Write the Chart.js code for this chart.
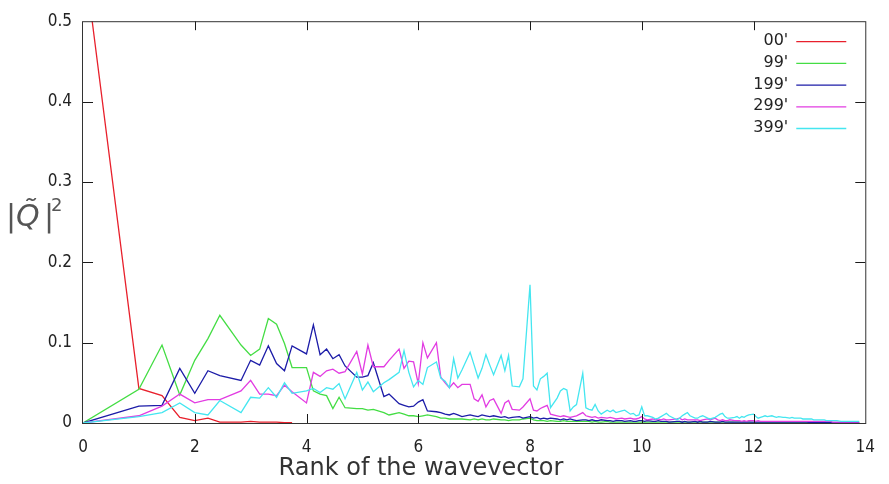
<!DOCTYPE html>
<html>
<head>
<meta charset="utf-8">
<script src="https://cdn.jsdelivr.net/npm/chart.js@4.4.0/dist/chart.umd.min.js"></script>
<style>
  html, body { margin: 0; padding: 0; background: #fff; }
  #wrap { width: 889px; height: 484px; }
</style>
</head>
<body>
<div id="wrap"><canvas id="spectrumChart" width="889" height="484"></canvas></div>
<script>
// Wavevector ranks (|k| of the lattice shells)
const ranks = [
  0, 1, 1.414, 1.732, 2, 2.236, 2.449, 2.828, 3, 3.162, 3.317, 3.464, 3.606, 3.742,
  4, 4.123, 4.243, 4.359, 4.472, 4.583, 4.69, 4.899,
  5, 5.099, 5.196, 5.385, 5.477, 5.657, 5.745, 5.831, 5.916,
  6, 6.083, 6.164, 6.325, 6.403, 6.481, 6.557, 6.633, 6.708, 6.782, 6.928,
  7, 7.071, 7.141, 7.211, 7.28, 7.348, 7.483, 7.55, 7.616, 7.681, 7.81, 7.874,
  8, 8.062, 8.124, 8.185, 8.246, 8.307, 8.367, 8.485, 8.544, 8.602, 8.66, 8.718, 8.775, 8.832, 8.944,
  9, 9.055, 9.11, 9.165, 9.22, 9.274, 9.381, 9.434, 9.487, 9.539, 9.644, 9.695, 9.798, 9.849, 9.899, 9.95,
  10, 10.05, 10.1, 10.198, 10.247, 10.296, 10.344, 10.392, 10.44, 10.488, 10.63, 10.677, 10.724, 10.77, 10.817, 10.863, 10.954,
  11, 11.045, 11.091, 11.18, 11.225, 11.314, 11.358, 11.402, 11.446, 11.489, 11.533, 11.576, 11.662, 11.705, 11.747, 11.79, 11.832, 11.874, 11.916,
  12, 12.042, 12.083, 12.124, 12.166, 12.207, 12.247, 12.329, 12.369, 12.41, 12.45, 12.53, 12.57, 12.649, 12.689, 12.728, 12.767, 12.806, 12.845, 12.884, 12.961,
  13, 13.038, 13.077, 13.115, 13.153, 13.191, 13.266, 13.304, 13.342, 13.379, 13.416, 13.454, 13.491, 13.565, 13.601, 13.638, 13.675, 13.748, 13.784, 13.856, 13.892
];

// |Q|^2 per snapshot
const q00 = [0.59, 0.043, 0.034, 0.007, 0.003, 0.006, 0.001, 0.001, 0.002, 0.001, 0.001, 0.001, 0.0005, 0.0005];

const q99 = [
  0, 0.042, 0.097, 0.035, 0.078, 0.105, 0.134, 0.097, 0.084, 0.092, 0.130, 0.123, 0.099, 0.069,
  0.069, 0.040, 0.036, 0.034, 0.018, 0.032, 0.019, 0.018,
  0.018, 0.016, 0.017, 0.013, 0.010, 0.013, 0.011, 0.009, 0.009,
  0.008, 0.009, 0.010, 0.008, 0.006, 0.006, 0.005, 0.005, 0.005, 0.005, 0.004,
  0.005, 0.004, 0.005, 0.004, 0.004, 0.005, 0.004, 0.004, 0.003, 0.004, 0.004, 0.005,
  0.006, 0.004, 0.003, 0.003, 0.003, 0.002, 0.003, 0.002, 0.002, 0.003, 0.002, 0.002, 0.002, 0.002, 0.002,
  0.002, 0.002, 0.001, 0.002, 0.001, 0.001, 0.002, 0.001, 0.001, 0.001, 0.001, 0.001, 0.001, 0.001, 0.001, 0.001,
  0.001, 0.001, 0.001, 0.001, 0.001, 0.001, 0.001, 0.001, 0.001, 0.001, 0.001, 0.001, 0.001, 0.001, 0.001, 0.001, 0.001,
  0.001, 0.001, 0.001, 0.001, 0.001, 0.001, 0.001, 0.001, 0.001, 0.001, 0.001, 0.001, 0.001, 0.001, 0.001, 0.001, 0.001, 0.001, 0.001,
  0.0005, 0.0005, 0.0005, 0.0005, 0.0005, 0.0005, 0.0005, 0.0005, 0.0005, 0.0005, 0.0005, 0.0005, 0.0005, 0.0005, 0.0005, 0.0005, 0.0005, 0.0005, 0.0005, 0.0005, 0.0005,
  0.0005, 0.0005, 0.0005, 0.0005, 0.0005, 0.0005, 0.0005, 0.0005, 0.0005, 0.0005, 0.0005, 0.0005, 0.0005, 0.0005, 0.0005, 0.0005, 0.0005, 0.0005, 0.0005, 0.0005, 0.0005
];

const q199 = [
  0, 0.021, 0.022, 0.068, 0.037, 0.065, 0.059, 0.053, 0.078, 0.072, 0.096, 0.074, 0.065, 0.096,
  0.086, 0.122, 0.085, 0.092, 0.080, 0.085, 0.071, 0.057,
  0.057, 0.059, 0.075, 0.033, 0.036, 0.024, 0.022, 0.020, 0.021,
  0.026, 0.029, 0.015, 0.014, 0.013, 0.011, 0.010, 0.012, 0.010, 0.008, 0.010,
  0.009, 0.008, 0.010, 0.009, 0.008, 0.009, 0.007, 0.008, 0.006, 0.007, 0.008, 0.006,
  0.008, 0.006, 0.007, 0.005, 0.006, 0.005, 0.006, 0.005, 0.004, 0.005, 0.004, 0.005, 0.004, 0.003, 0.004,
  0.004, 0.003, 0.004, 0.003, 0.003, 0.004, 0.003, 0.003, 0.002, 0.003, 0.003, 0.002, 0.003, 0.002, 0.002, 0.003,
  0.003, 0.002, 0.003, 0.002, 0.002, 0.003, 0.002, 0.002, 0.002, 0.001, 0.002, 0.002, 0.001, 0.002, 0.001, 0.001, 0.002,
  0.001, 0.002, 0.001, 0.001, 0.002, 0.001, 0.001, 0.001, 0.002, 0.001, 0.001, 0.001, 0.001, 0.001, 0.001, 0.001, 0.001, 0.001, 0.001,
  0.001, 0.001, 0.001, 0.001, 0.001, 0.001, 0.001, 0.001, 0.001, 0.001, 0.001, 0.001, 0.001, 0.001, 0.001, 0.001, 0.001, 0.001, 0.001, 0.001, 0.001,
  0.0005, 0.0005, 0.0005, 0.0005, 0.0005, 0.0005, 0.0005, 0.0005, 0.0005, 0.0005, 0.0005, 0.0005, 0.0005, 0.0005, 0.0005, 0.0005, 0.0005, 0.0005, 0.0005, 0.0005, 0.0005
];

const q299 = [
  0, 0.009, 0.021, 0.036, 0.025, 0.029, 0.029, 0.040, 0.053, 0.036, 0.036, 0.034, 0.047, 0.039,
  0.025, 0.063, 0.058, 0.065, 0.067, 0.062, 0.064, 0.089,
  0.061, 0.097, 0.070, 0.070, 0.078, 0.092, 0.068, 0.077, 0.076,
  0.049, 0.100, 0.081, 0.100, 0.057, 0.050, 0.044, 0.050, 0.044, 0.048, 0.048,
  0.030, 0.027, 0.035, 0.020, 0.028, 0.030, 0.012, 0.025, 0.028, 0.017, 0.016, 0.020,
  0.030, 0.016, 0.015, 0.018, 0.020, 0.022, 0.011, 0.009, 0.008, 0.009, 0.008, 0.007, 0.008, 0.009, 0.013,
  0.009, 0.008, 0.007, 0.008, 0.006, 0.007, 0.006, 0.007, 0.006, 0.005, 0.006, 0.005, 0.006, 0.005, 0.005, 0.006,
  0.008, 0.005, 0.004, 0.005, 0.004, 0.005, 0.004, 0.005, 0.004, 0.004, 0.005, 0.006, 0.004, 0.005, 0.004, 0.004, 0.004,
  0.004, 0.003, 0.004, 0.005, 0.004, 0.006, 0.004, 0.003, 0.004, 0.003, 0.003, 0.004, 0.003, 0.003, 0.003, 0.002, 0.003, 0.002, 0.003,
  0.003, 0.002, 0.003, 0.002, 0.002, 0.002, 0.002, 0.002, 0.002, 0.002, 0.002, 0.002, 0.002, 0.002, 0.002, 0.002, 0.002, 0.002, 0.002, 0.002, 0.002,
  0.002, 0.002, 0.002, 0.002, 0.002, 0.002, 0.002, 0.002, 0.002, 0.002, 0.001, 0.001, 0.001, 0.001, 0.001, 0.001, 0.001, 0.001, 0.001, 0.001, 0.001
];

const q399 = [
  0, 0.008, 0.013, 0.025, 0.013, 0.010, 0.028, 0.013, 0.032, 0.031, 0.044, 0.032, 0.050, 0.037,
  0.040, 0.043, 0.038, 0.044, 0.042, 0.049, 0.030, 0.063,
  0.041, 0.051, 0.039, 0.050, 0.054, 0.063, 0.090, 0.063, 0.045,
  0.053, 0.048, 0.069, 0.076, 0.056, 0.052, 0.044, 0.080, 0.056, 0.066, 0.088,
  0.072, 0.056, 0.068, 0.085, 0.072, 0.060, 0.084, 0.065, 0.084, 0.046, 0.045, 0.055,
  0.172, 0.046, 0.041, 0.055, 0.058, 0.062, 0.019, 0.031, 0.040, 0.043, 0.041, 0.015, 0.020, 0.023, 0.062,
  0.019, 0.017, 0.016, 0.023, 0.015, 0.011, 0.016, 0.014, 0.016, 0.013, 0.015, 0.016, 0.011, 0.012, 0.009, 0.010,
  0.020, 0.009, 0.009, 0.007, 0.005, 0.006, 0.008, 0.010, 0.012, 0.009, 0.004, 0.006, 0.009, 0.011, 0.013, 0.009, 0.006,
  0.006, 0.008, 0.009, 0.006, 0.005, 0.007, 0.009, 0.011, 0.012, 0.008, 0.006, 0.006, 0.007, 0.008, 0.006, 0.008, 0.007, 0.009, 0.010,
  0.011, 0.008, 0.006, 0.007, 0.008, 0.009, 0.008, 0.009, 0.008, 0.007, 0.008, 0.007, 0.007, 0.006, 0.007, 0.006, 0.006, 0.006, 0.006, 0.005, 0.005,
  0.005, 0.005, 0.004, 0.004, 0.004, 0.004, 0.004, 0.003, 0.003, 0.003, 0.003, 0.003, 0.003, 0.002, 0.002, 0.002, 0.002, 0.002, 0.002, 0.002, 0.002
];

const seriesLabels = ["00'", "99'", "199'", "299'", "399'"];
const seriesColors = ['#e8202c', '#44dd44', '#1c1ca8', '#e23ce2', '#44e6f0'];
const seriesValues = [q00, q99, q199, q299, q399];

const xTickValues = [0, 2, 4, 6, 8, 10, 12, 14];

const tickFont = { family: "'Liberation Sans Narrow', 'DejaVu Sans Condensed', 'Liberation Sans', sans-serif", size: 17 };

// pair ranks with values
function toPoints(values) {
  return values.map((v, i) => ({ x: ranks[i], y: v }));
}

// Frame round the plot area with inward ticks on all four sides
const frameTicks = {
  id: 'frameTicks',
  afterDatasetsDraw(chart) {
    const { ctx, chartArea: a, scales: { x, y } } = chart;
    ctx.save();
    ctx.strokeStyle = '#1a1a1a';
    ctx.lineWidth = 1;
    ctx.beginPath();
    xTickValues.slice(1, -1).forEach(v => {
      const px = Math.round(x.getPixelForValue(v)) + 0.5;
      ctx.moveTo(px, a.bottom); ctx.lineTo(px, a.bottom - 9);
      ctx.moveTo(px, a.top); ctx.lineTo(px, a.top + 9);
    });
    y.ticks.forEach(t => {
      if (t.value <= 0 || t.value >= 0.5) return;
      const py = Math.round(y.getPixelForValue(t.value)) + 0.5;
      ctx.moveTo(a.left, py); ctx.lineTo(a.left + 10, py);
      ctx.moveTo(a.right, py); ctx.lineTo(a.right - 10, py);
    });
    ctx.stroke();
    ctx.strokeStyle = '#333';
    ctx.strokeRect(a.left - 0.5, a.top + 0.5, a.right - a.left + 1, a.bottom - a.top);
    ctx.restore();
  }
};

// gnuplot-style key: label right-aligned, line sample after it
const keyBox = {
  id: 'keyBox',
  afterDraw(chart) {
    const { ctx, chartArea: a } = chart;
    ctx.save();
    ctx.font = "16px 'DejaVu Sans'";
    ctx.textAlign = 'right';
    ctx.textBaseline = 'middle';
    chart.data.datasets.forEach((ds, i) => {
      const yy = a.top + 20 + i * 21.7;
      ctx.fillStyle = '#222';
      ctx.fillText(seriesLabels[i], a.right - 77, yy);
      ctx.strokeStyle = ds.borderColor;
      ctx.lineWidth = 1.3;
      ctx.beginPath();
      ctx.moveTo(a.right - 69, yy + 0.5);
      ctx.lineTo(a.right - 19, yy + 0.5);
      ctx.stroke();
    });
    ctx.restore();
  }
};

// axis titles
const axisText = {
  id: 'axisText',
  afterDraw(chart) {
    const { ctx, chartArea: a } = chart;
    ctx.save();
    ctx.textBaseline = 'middle';
    ctx.fillStyle = '#333';
    ctx.textAlign = 'center';
    ctx.font = "24px 'DejaVu Sans'";
    ctx.fillText('Rank of the wavevector', a.left + 338, a.bottom + 46);

    // |Q~|^2
    const cy = (a.top + a.bottom) / 2 - 4;
    ctx.fillStyle = '#555';
    ctx.textAlign = 'left';
    ctx.font = "30px 'DejaVu Sans'";
    ctx.fillText('|', 6, cy);
    ctx.font = "italic 30px 'DejaVu Sans'";
    ctx.fillText('Q\u0303', 16, cy);
    ctx.font = "30px 'DejaVu Sans'";
    ctx.fillText('|', 44, cy);
    ctx.font = "18px 'DejaVu Sans'";
    ctx.fillText('2', 51, cy - 12);
    ctx.restore();
  }
};

const ctx = document.getElementById('spectrumChart');

new Chart(ctx, {
  type: 'line',
  data: {
    datasets: seriesValues.map((vals, i) => ({
      label: seriesLabels[i],
      data: toPoints(vals),
      borderColor: seriesColors[i],
      backgroundColor: seriesColors[i],
      borderWidth: 1.3,
      pointRadius: 0,
      tension: 0,
      fill: false,
      order: seriesValues.length - i
    }))
  },
  options: {
    responsive: false,
    animation: false,
    devicePixelRatio: 1,
    layout: { padding: { left: 0, top: 12, right: 15, bottom: 0 } },
    plugins: {
      legend: { display: false },
      tooltip: { enabled: false }
    },
    scales: {
      x: {
        type: 'linear',
        min: 0,
        max: 14,
        afterFit: s => { s.height = 61; },
        afterBuildTicks: s => { s.ticks = xTickValues.map(v => ({ value: v })); },
        grid: { display: false, drawTicks: false },
        border: { display: false },
        ticks: { color: '#222', font: tickFont, padding: 14, maxRotation: 0 }
      },
      y: {
        type: 'linear',
        min: 0,
        max: 0.5,
        afterFit: s => { s.width = 83; },
        grid: { display: false, drawTicks: false },
        border: { display: false },
        ticks: { stepSize: 0.1, color: '#222', font: tickFont, padding: 11 }
      }
    }
  },
  plugins: [frameTicks, keyBox, axisText]
});
</script>
</body>
</html>
